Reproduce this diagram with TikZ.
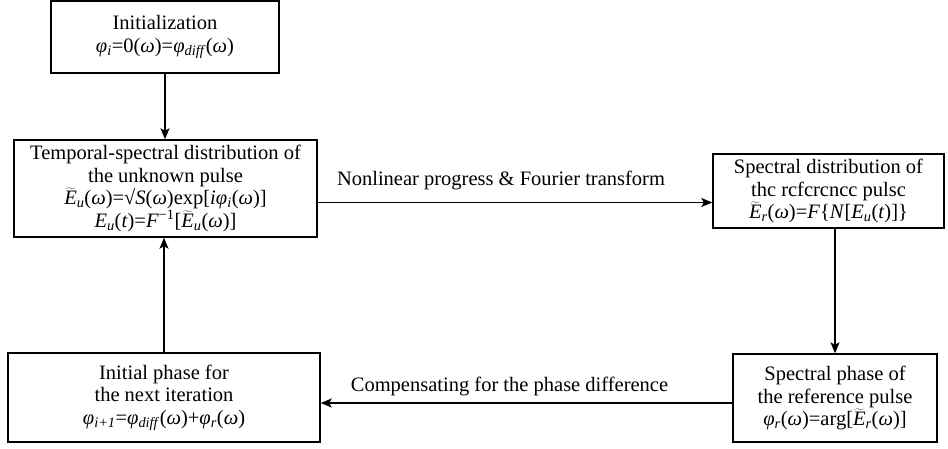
\documentclass[tikz,border=0pt]{standalone}
\usepackage{fontspec}
\setmainfont{Liberation Serif}
\usetikzlibrary{arrows.meta, positioning}

\newcommand{\ph}{\textit{φ}}
\newcommand{\om}{\textit{ω}}
\newcommand{\sbs}[1]{\textsubscript{\textit{#1}}}
\newcommand{\Et}{$\widetilde{\textit{E}}$}

\begin{document}
\begin{tikzpicture}[
  x=1pt, y=-1pt,
  font=\fontsize{20.5}{22.5}\selectfont,
  box/.style={rectangle, draw, line width=1.4pt, align=center, inner sep=0pt},
  arrow/.style={-{Stealth[length=11pt, width=9pt, inset=2.5pt]}, line width=1.4pt},
]
\useasboundingbox (0,0) rectangle (948,448);

\node[box, minimum width=228pt, minimum height=72pt] (init) at (165,37) {Initialization \\
\ph\sbs{i}=0(\om)=\ph\sbs{diff}(\om)};
\node[box, minimum width=303pt, minimum height=97pt] (tsd) at (165.5,188.5) {Temporal-spectral distribution of \\
the unknown pulse \\
\Et\sbs{u}(\om)=√\textit{S}(\om)exp[\textit{i}\ph\sbs{i}(\om)] \\
\textit{E}\sbs{u}(\textit{t})=\textit{F}\textsuperscript{−1}[\Et\sbs{u}(\om)]};
\node[box, minimum width=231pt, minimum height=74pt] (sdr) at (828.5,191) {Spectral distribution of \\
thc rcfcrcncc pulsc \\
\Et\sbs{r}(\om)=\textit{F}\{\textit{N}[\textit{E}\sbs{u}(\textit{t})]\}};
\node[box, minimum width=204pt, minimum height=88pt] (spr) at (835,398) {Spectral phase of \\
the reference pulse \\
\ph\sbs{r}(\om)=arg[\Et\sbs{r}(\om)]};
\node[box, minimum width=312pt, minimum height=89pt] (ini) at (164,397.5) {Initial phase for \\
the next iteration \\
\ph\sbs{i+1}=\ph\sbs{diff}(\om)+\ph\sbs{r}(\om)};

% Connections
\draw[arrow] (init.south) -- (init.south |- tsd.north);
\draw[arrow] ([yshift=-14pt]tsd.east) -- ([yshift=-14pt]tsd.east -| sdr.west)
  node[midway, above, yshift=9pt, xshift=-14pt] {Nonlinear progress \& Fourier transform};
\draw[arrow] (sdr.south -| spr.north) -- (spr.north);
\draw[arrow] ([yshift=-5pt]spr.west) -- ([yshift=-5pt]spr.west -| ini.east)
  node[midway, above, yshift=3pt, xshift=-17pt] {Compensating for the phase difference};
\draw[arrow] (ini.north) -- (ini.north |- tsd.south);

\end{tikzpicture}
\end{document}
